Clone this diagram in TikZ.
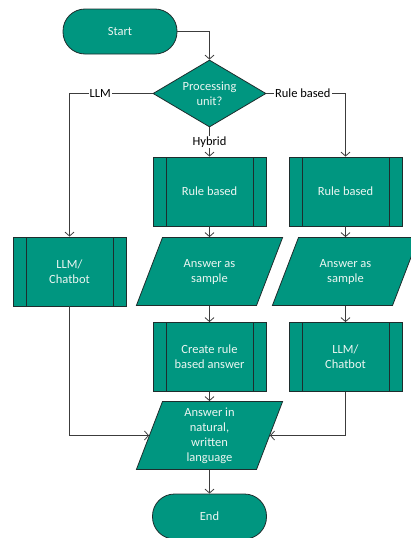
\documentclass[tikz,border=0pt]{standalone}
\usepackage{fontspec}
\setmainfont{Carlito}
\usetikzlibrary{shapes.geometric,arrows.meta}
\definecolor{tealfill}{RGB}{0,150,128}
\definecolor{edgecol}{RGB}{30,45,45}
\definecolor{txtcol}{RGB}{236,246,242}
\definecolor{wirecol}{RGB}{60,60,60}
\newcommand{\iobox}[1]{\parbox[c][68pt][c]{94pt}{\centering #1}}
\begin{document}
\begin{tikzpicture}[x=1pt,y=-1pt,
  base/.style={draw=edgecol, fill=tealfill, line width=0.8pt, text=txtcol,
    font=\fontsize{12.5}{15}\selectfont, align=center, inner sep=0pt},
  term/.style={base, shape=rectangle, rounded corners=22pt, minimum width=114pt, minimum height=45pt},
  proc/.style={base, shape=rectangle, minimum width=113pt, minimum height=69pt,
    path picture={
      \draw[edgecol, line width=0.8pt] ([xshift=13pt]path picture bounding box.north west) -- ([xshift=13pt]path picture bounding box.south west);
      \draw[edgecol, line width=0.8pt] ([xshift=-13pt]path picture bounding box.north east) -- ([xshift=-13pt]path picture bounding box.south east);
    }},
  io/.style={base, shape=trapezium, trapezium left angle=69, trapezium right angle=111},
  dec/.style={base, shape=diamond, aspect=1.7, minimum width=113pt, minimum height=67pt},
  wire/.style={draw=wirecol, line width=0.8pt, -{Straight Barb[length=4pt,width=9pt]}},
  lab/.style={fill=white, inner sep=1pt, text=black, font=\fontsize{12.5}{14}\selectfont}
]
\useasboundingbox (0,0) rectangle (410,538);
\node[term] (start) at (120,31.5) {Start};
\node[dec] (dec) at (209.5,93.5) {Processing\\unit?};
\node[proc] (rb1) at (209.5,191.5) {Rule based};
\node[proc] (rb2) at (345.5,191.5) {Rule based};
\node[proc] (llm1) at (69.5,271.5) {LLM/\\Chatbot};
\node[io] (as1) at (209.5,271.5) {\iobox{Answer as\\sample}};
\node[io] (as2) at (345.5,271.5) {\iobox{Answer as\\sample}};
\node[proc] (cr) at (209.5,357) {Create rule\\based answer};
\node[proc] (llm2) at (345.5,357) {LLM/\\Chatbot};
\node[io] (nat) at (209.5,435.5) {\iobox{Answer in\\natural,\\written\\language}};
\node[term] (end) at (209.5,516.5) {End};

\draw[wire] (start.east) -| (dec.north);
\draw[wire] (dec.west) -| node[lab, pos=0.315]{LLM} (llm1.north);
\draw[wire] (dec.east) -| node[lab, pos=0.23]{Rule based} (rb2.north);
\draw[wire] (dec.south) -- node[lab]{Hybrid} (rb1.north);
\draw[wire] (rb1.south) -- (as1.north);
\draw[wire] (rb2.south) -- (as2.north);
\draw[wire] (as1.south) -- (cr.north);
\draw[wire] (as2.south) -- (llm2.north);
\draw[wire] (cr.south) -- (nat.north);
\draw[wire] (llm1.south) |- (nat.west);
\draw[wire] (llm2.south) |- (nat.east);
\draw[wire] (nat.south) -- (end.north);
\end{tikzpicture}
\end{document}
